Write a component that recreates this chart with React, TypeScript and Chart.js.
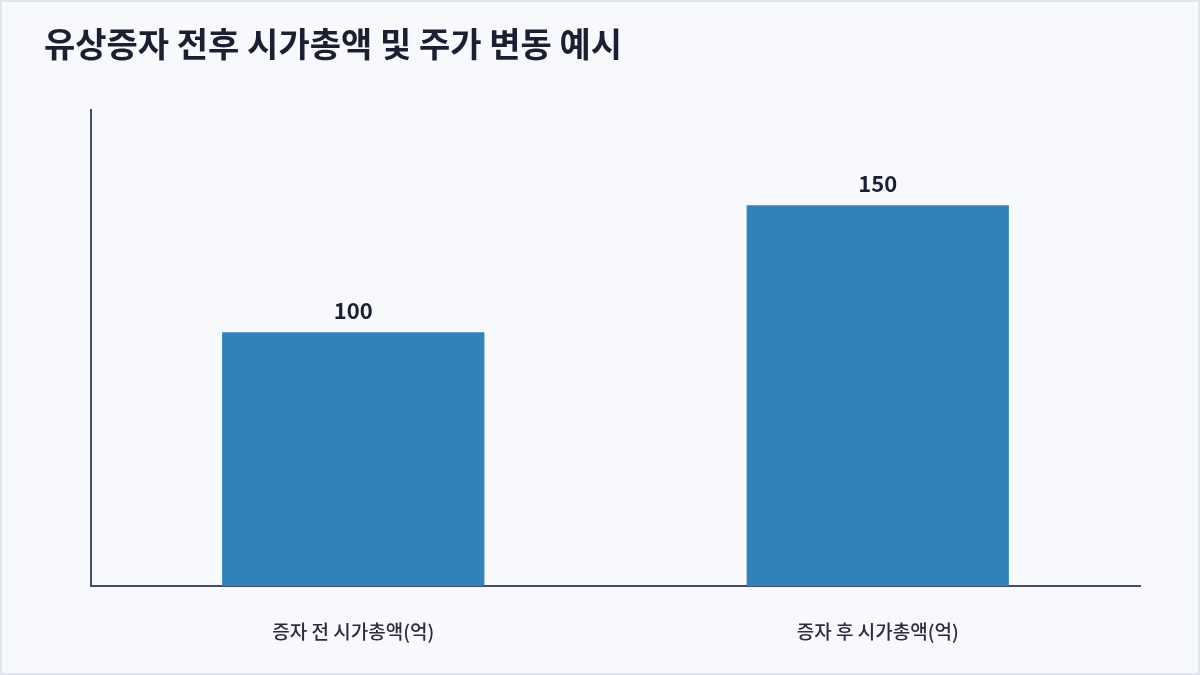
import React, { useEffect, useRef } from 'react';
import { Chart, registerables } from 'chart.js';

Chart.register(...registerables);

const TITLE = '유상증자 전후 시가총액 및 주가 변동 예시';
const categories = ['증자 전 시가총액(억)', '증자 후 시가총액(억)'];
const marketCap = [100, 150];

const FONT = '"Noto Sans CJK KR", "Noto Sans", sans-serif';
const INK = '#1e1e32';
const AXIS = '#4a4a68';
const BAR = '#3282ba';

// Title and value labels drawn on the canvas
const decorations = {
  id: 'decorations',
  afterDatasetsDraw(chart: Chart) {
    const { ctx } = chart;
    ctx.save();
    ctx.fillStyle = INK;
    ctx.font = `bold 34px ${FONT}`;
    ctx.textAlign = 'left';
    ctx.textBaseline = 'middle';
    ctx.fillText(TITLE, 42, 42);

    ctx.font = `bold 22px ${FONT}`;
    ctx.textAlign = 'center';
    ctx.textBaseline = 'alphabetic';
    const meta = chart.getDatasetMeta(0);
    meta.data.forEach((bar: any, i: number) => {
      ctx.fillText(String(marketCap[i]), bar.x, bar.y - 13);
    });
    ctx.restore();
  }
};

export default function App() {
  const chartRef = useRef<HTMLCanvasElement>(null);
  const chartInstance = useRef<Chart | null>(null);

  useEffect(() => {
    if (!chartRef.current) return;
    if (chartInstance.current) chartInstance.current.destroy();

    chartInstance.current = new Chart(chartRef.current, {
      type: 'bar',
      data: {
        labels: categories,
        datasets: [
          {
            label: '시가총액',
            data: marketCap,
            backgroundColor: BAR,
            borderWidth: 0,
            barPercentage: 0.5,
            categoryPercentage: 1
          }
        ]
      },
      options: {
        animation: false,
        responsive: true,
        maintainAspectRatio: false,
        layout: {
          padding: { top: 108, left: 89, right: 58, bottom: -4 }
        },
        plugins: {
          legend: { display: false },
          tooltip: { enabled: false }
        },
        scales: {
          x: {
            grid: { display: false, drawTicks: false },
            border: { display: true, color: AXIS, width: 2 },
            ticks: {
              color: '#2b2b3d',
              padding: 34,
              font: { family: FONT, size: 19, weight: 500 }
            }
          },
          y: {
            min: 0,
            max: 187.5,
            grid: { display: false, drawTicks: false },
            border: { display: true, color: AXIS, width: 2 },
            ticks: { display: false }
          }
        }
      },
      plugins: [decorations]
    });

    return () => {
      if (chartInstance.current) {
        chartInstance.current.destroy();
        chartInstance.current = null;
      }
    };
  }, []);

  return (
    <div
      style={{
        position: 'fixed',
        left: 0,
        top: 0,
        width: 1200,
        height: 675,
        boxSizing: 'border-box',
        border: '2px solid #dfe4ee',
        background: '#f8f9fd'
      }}
    >
      <div style={{ position: 'absolute', left: 0, top: 0, width: '100%', height: '100%' }}>
        <canvas ref={chartRef} />
      </div>
    </div>
  );
}
